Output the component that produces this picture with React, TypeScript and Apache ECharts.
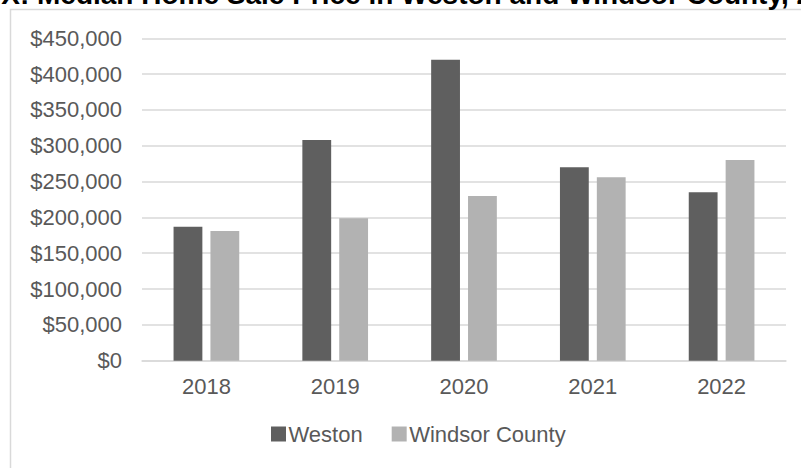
import React, { useEffect, useRef } from "react";
import * as echarts from "echarts";

const categories = ["2018", "2019", "2020", "2021", "2022"];
const westonValues = [187000, 308000, 420000, 270000, 235000];
const windsorValues = [181000, 199000, 230000, 256000, 280000];
const seriesNames = ["Weston", "Windsor County"];
const titlePrefix = "Figure X-X: ";
const titleMain = "Median Home Sale Price in Weston and Windsor County, 2018-2022";

export default function App() {
  const ref = useRef<HTMLDivElement>(null);
  useEffect(() => {
    if (!ref.current) return;
    const chart = echarts.init(ref.current, null, { renderer: "svg" });
    const font = "Liberation Sans, Arial, sans-serif";
    const titleFont = "bold 28px Liberation Sans, Arial, sans-serif";
    chart.setOption({
      animation: false,
      backgroundColor: "#ffffff",
      graphic: [
        {
          type: "rect",
          shape: { x: 10.5, y: 9.5, width: 900, height: 600 },
          style: { fill: "none", stroke: "#d9d9d9", lineWidth: 1.5 },
          z: 0,
        },
        {
          type: "text",
          x: 37,
          y: -6,
          style: {
            text: titleMain,
            font: titleFont,
            fill: "#000000",
            verticalAlign: "middle",
            align: "left",
          },
        },
        {
          type: "text",
          x: 37,
          y: -6,
          style: {
            text: titlePrefix,
            font: titleFont,
            fill: "#000000",
            verticalAlign: "middle",
            align: "right",
          },
        },
      ],
      grid: { left: 142, right: 15, top: 38.3, bottom: 107.3, containLabel: false },
      legend: {
        left: 266,
        top: 418,
        itemWidth: 15,
        itemHeight: 15,
        itemGap: 29,
        icon: "rect",
        textStyle: { fontFamily: font, fontSize: 22, color: "#595959", padding: [0, 0, 0, -2.5] },
        data: seriesNames,
      },
      xAxis: {
        type: "category",
        data: categories,
        axisLine: { lineStyle: { color: "#d9d9d9", width: 1.5 } },
        axisTick: { show: false },
        axisLabel: { fontFamily: font, fontSize: 22, color: "#595959", margin: 15 },
      },
      yAxis: {
        type: "value",
        min: 0,
        max: 450000,
        interval: 50000,
        axisLine: { show: false },
        axisTick: { show: false },
        splitLine: { lineStyle: { color: "#d9d9d9", width: 1.5 } },
        axisLabel: {
          fontFamily: font,
          fontSize: 22,
          color: "#595959",
          margin: 20,
          formatter: (v: number) => "$" + v.toLocaleString("en-US"),
        },
      },
      series: [
        {
          name: seriesNames[0],
          type: "bar",
          data: westonValues,
          itemStyle: { color: "#5f5f5f" },
          barGap: "28%",
          barCategoryGap: "49%",
        },
        {
          name: seriesNames[1],
          type: "bar",
          data: windsorValues,
          itemStyle: { color: "#b2b2b2" },
        },
      ],
    });
    return () => chart.dispose();
  }, []);
  return (
    <div
      ref={ref}
      style={{ position: "fixed", left: 0, top: 0, width: 801, height: 468 }}
    />
  );
}
